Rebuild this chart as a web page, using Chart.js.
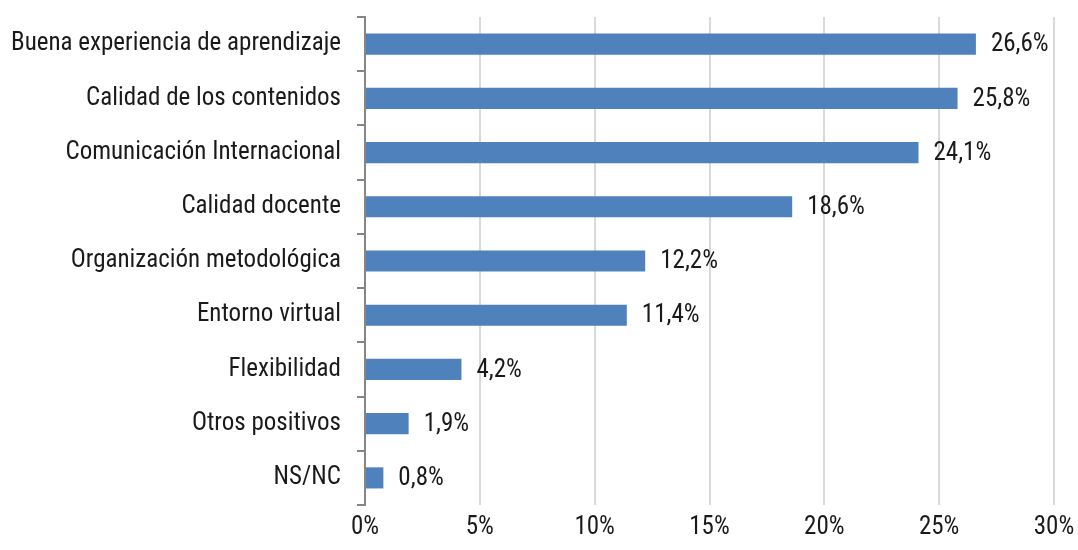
<!DOCTYPE html>
<html>
<head>
<meta charset="utf-8">
<script src="https://cdn.jsdelivr.net/npm/chart.js@4/dist/chart.umd.min.js"></script>
<style>
  html, body { margin: 0; padding: 0; background: #fff; }
  #wrap { width: 1078px; height: 550px; }
</style>
</head>
<body>
<div id="wrap"><canvas id="chart"></canvas></div>
<script>
// categorias y valores (%)
const categories = [
  'Buena experiencia de aprendizaje',
  'Calidad de los contenidos',
  'Comunicación Internacional',
  'Calidad docente',
  'Organización metodológica',
  'Entorno virtual',
  'Flexibilidad',
  'Otros positivos',
  'NS/NC'
];
const values = [26.6, 25.8, 24.1, 18.6, 12.2, 11.4, 4.2, 1.9, 0.8];
const xTicks = [0, 5, 10, 15, 20, 25, 30];

const FONT = "'Roboto Condensed', 'Liberation Sans Narrow', sans-serif";
const FSIZE = 25;

// etiquetas de valor al final de cada barra
const valueLabels = {
  id: 'valueLabels',
  afterDatasetsDraw(chart) {
    const ctx = chart.ctx;
    const meta = chart.getDatasetMeta(0);
    ctx.save();
    ctx.font = FSIZE + 'px ' + FONT;
    ctx.fillStyle = '#1a1a1a';
    ctx.textAlign = 'left';
    ctx.textBaseline = 'middle';
    meta.data.forEach((bar, i) => {
      const txt = values[i].toFixed(1).replace('.', ',') + '%';
      ctx.fillText(txt, bar.x + 15, bar.y + 1);
    });
    ctx.restore();
  }
};

new Chart(document.getElementById('chart'), {
  type: 'bar',
  data: {
    labels: categories,
    datasets: [{
      data: values,
      backgroundColor: '#4f81bd',
      barPercentage: 0.39,
      categoryPercentage: 1.0
    }]
  },
  plugins: [valueLabels],
  options: {
    indexAxis: 'y',
    responsive: true,
    maintainAspectRatio: false,
    animation: false,
    layout: { padding: { top: 17, right: 24, left: 0, bottom: 0 } },
    plugins: {
      legend: { display: false },
      tooltip: { enabled: false }
    },
    scales: {
      x: {
        min: 0,
        max: 30,
        afterFit(scale) {
          scale.height = 45;
          scale.paddingLeft = 0;
          scale.paddingRight = 0;
        },
        afterBuildTicks(scale) { scale.ticks = xTicks.map(v => ({ value: v })); },
        grid: {
          color: (c) => c.tick && c.tick.value === 0 ? 'rgba(0,0,0,0)' : '#d9d9d9',
          lineWidth: 2,
          drawTicks: false
        },
        border: { display: false },
        ticks: {
          padding: 8,
          color: '#1a1a1a',
          font: { family: FONT, size: FSIZE },
          callback: (v) => v + '%'
        }
      },
      y: {
        afterFit(scale) {
          scale.width = 365;
          scale.paddingTop = 0;
          scale.paddingBottom = 0;
        },
        offset: true,
        grid: {
          offset: true,
          drawOnChartArea: false,
          drawTicks: true,
          tickLength: 8,
          color: '#868686',
          lineWidth: 2
        },
        border: { display: true, color: '#868686', width: 2 },
        ticks: {
          padding: 16,
          color: '#1a1a1a',
          font: { family: FONT, size: FSIZE }
        }
      }
    }
  }
});
</script>
</body>
</html>
